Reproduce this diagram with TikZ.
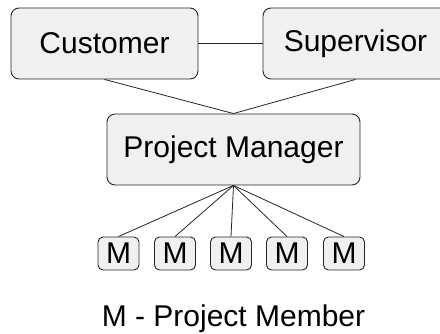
\documentclass[tikz,border=0pt]{standalone}
\usepackage{fontspec}
\setmainfont{Liberation Sans}
\begin{document}
\begin{tikzpicture}[x=1pt,y=-1pt,
  box/.style={draw=black!85, fill=black!6, rounded corners=8pt, line width=0.9pt, inner sep=0pt, font=\fontsize{30}{36}\selectfont},
  mbox/.style={box, rounded corners=5pt, minimum width=41pt, minimum height=33pt},
  conn/.style={draw=black!85, line width=0.8pt}]
\clip (0,0) rectangle (440,334);
\fill[white] (0,0) rectangle (440,334);
\node[box, minimum width=187pt, minimum height=71pt] (cust) at (104.5,43.5) {Customer};
\node[box, minimum width=185pt, minimum height=71pt] (sup) at (355.5,43.5) {Supervisor};
\node[box, minimum width=253pt, minimum height=71pt] (pm) at (233.5,149.5) {Project Manager};
\node[mbox] (m1) at (118.5,253.5) {M};
\node[mbox] (m2) at (175,253.5) {M};
\node[mbox] (m3) at (231,253.5) {M};
\node[mbox] (m4) at (287,253.5) {M};
\node[mbox] (m5) at (344,253.5) {M};
\node[anchor=base, inner sep=0pt, font=\fontsize{30}{36}\selectfont] (legend) at (233.5,327) {M - Project Member};
\draw[conn] (cust.east) -- (sup.west);
\draw[conn] (cust.south) -- (pm.north);
\draw[conn] (sup.south) -- (pm.north);
\foreach \m in {m1,m2,m3,m4,m5} \draw[conn] (pm.south) -- (\m.north);
\end{tikzpicture}
\end{document}
